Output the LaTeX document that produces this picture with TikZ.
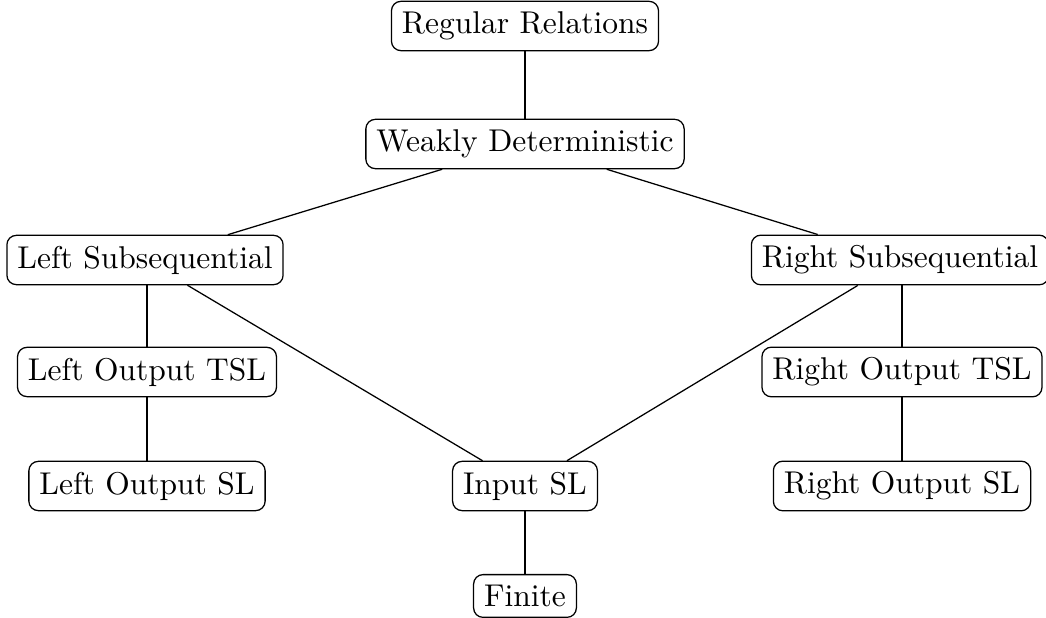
\documentclass[tikz,border=0pt]{standalone}
\begin{document}
\begin{tikzpicture}[x=0.3175pt,y=-0.3175pt,
  box/.style={draw,rounded corners=3pt,inner sep=0.333em},
  edge/.style={draw}]
\useasboundingbox (0,0) rectangle (1046,618);
\node[box] (rr) at (525,26) {Regular Relations};
\node[box] (wd) at (525,144) {Weakly Deterministic};
\node[box] (ls) at (145,260) {Left Subsequential};
\node[box] (rs) at (900,260) {Right Subsequential};
\node[box] (lt) at (147,372) {Left Output TSL};
\node[box] (rt) at (902,372) {Right Output TSL};
\node[box] (lsl) at (147,486) {Left Output SL};
\node[box] (isl) at (525,486) {Input SL};
\node[box] (rsl) at (902,486) {Right Output SL};
\node[box] (fin) at (525,596) {Finite};
\path[edge] (rr) -- (wd);
\path[edge] (wd) -- (ls);
\path[edge] (wd) -- (rs);
\path[edge] (ls.south -| lt) -- (lt);
\path[edge] (lt) -- (lsl);
\path[edge] (ls) -- (isl);
\path[edge] (rs) -- (isl);
\path[edge] (rs.south -| rt) -- (rt);
\path[edge] (rt) -- (rsl);
\path[edge] (isl) -- (fin);
\end{tikzpicture}
\end{document}
